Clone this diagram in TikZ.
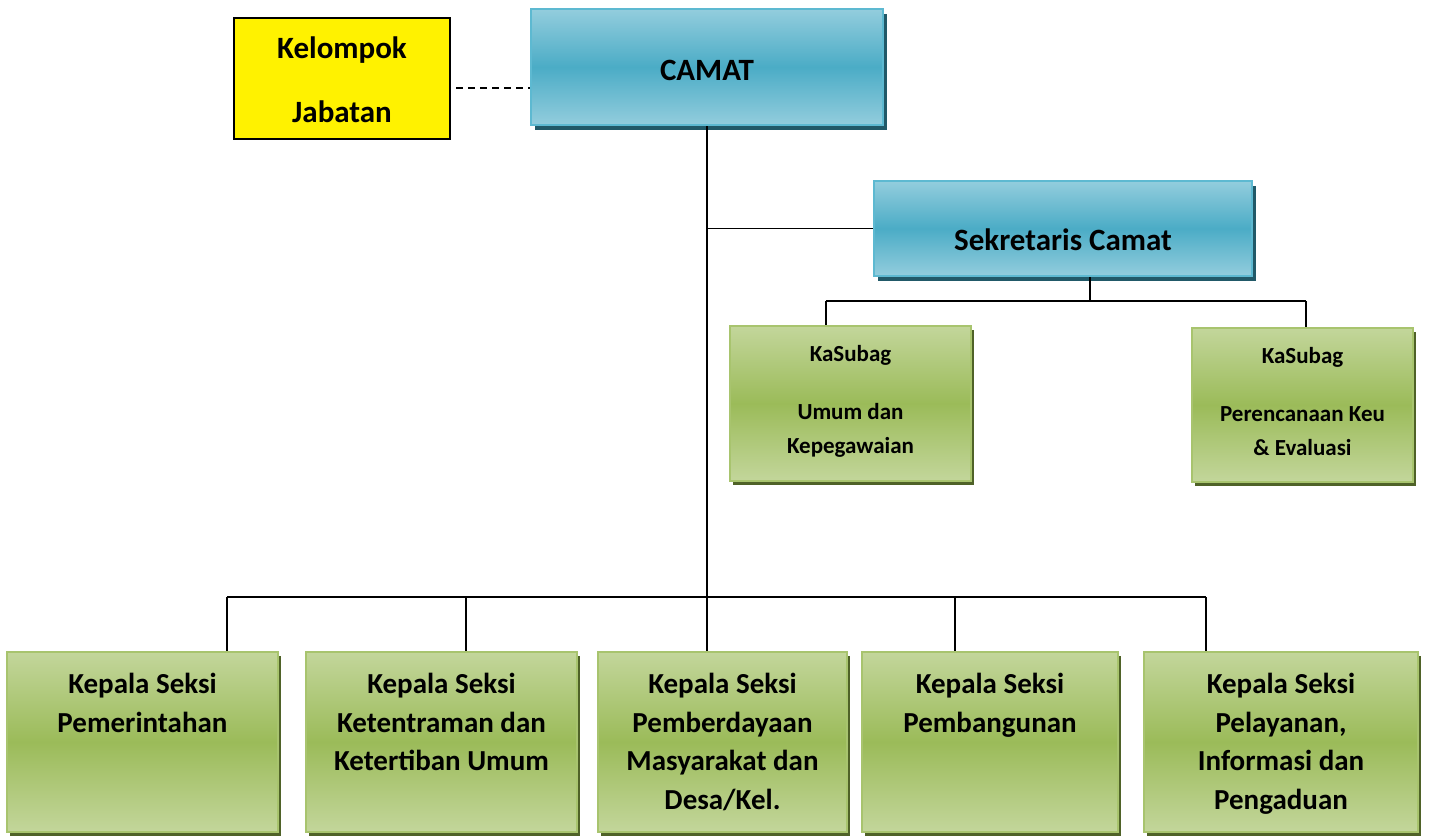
\documentclass[tikz,border=0pt]{standalone}
\usepackage{fontspec}
\setmainfont{Carlito}
\usetikzlibrary{shadows}
\definecolor{bluelight}{HTML}{93CDDD}
\definecolor{bluemid}{HTML}{4BACC6}
\definecolor{blueedge}{HTML}{5DB9D1}
\definecolor{blueshadow}{HTML}{215968}
\definecolor{greenlight}{HTML}{C3D69B}
\definecolor{greenmid}{HTML}{9BBB59}
\definecolor{greenedge}{HTML}{A8C46E}
\definecolor{greenshadow}{HTML}{4F6228}
\tikzset{
  bluebox/.style={draw=blueedge, line width=2.2pt, top color=bluelight, bottom color=bluelight, middle color=bluemid,
    drop shadow={shadow xshift=4pt, shadow yshift=-5pt, fill=blueshadow, opacity=1}, inner sep=0pt},
  greenbox/.style={draw=greenedge, line width=2.2pt, top color=greenlight, bottom color=greenlight, middle color=greenmid,
    drop shadow={shadow xshift=3pt, shadow yshift=-4pt, fill=greenshadow, opacity=1}, inner sep=0pt},
  yellowbox/.style={draw=black, line width=1.3pt, fill=yellow, inner sep=0pt},
  conn/.style={line width=1.6pt, black},
  bigtxt/.style={font=\bfseries\fontsize{29}{38.7}\selectfont, align=center, inner sep=0pt, anchor=north},
  smalltxt/.style={font=\bfseries\fontsize{23}{34}\selectfont, align=center, inner sep=0pt, anchor=north},
  headtxt/.style={font=\bfseries\fontsize{31}{64}\selectfont, align=center, inner sep=0pt},
}
\begin{document}
\begin{tikzpicture}[x=1pt,y=-1pt]
\useasboundingbox (0,0) rectangle (1431,835);
% boxes
\node[yellowbox, minimum width=216, minimum height=121] (kel) at (342,78.5) {};
\node[headtxt] (kelt) at (342,80) {Kelompok\\Jabatan};
\node[bluebox, minimum width=352, minimum height=116] (camat) at (707,67) {};
\node[headtxt] (camatt) at (707,70) {CAMAT};
\node[bluebox, minimum width=378, minimum height=95] (sek) at (1063,228.5) {};
\node[headtxt] (sekt) at (1063,240) {Sekretaris Camat};
\node[greenbox, minimum width=241, minimum height=155] (k1) at (850.5,403.5) {};
\node[smalltxt] (k1t) at (850.5,345) {KaSubag\\[24pt]Umum dan\\Kepegawaian};
\node[greenbox, minimum width=221, minimum height=154] (k2) at (1302.5,405) {};
\node[smalltxt] (k2t) at (1302.5,347) {KaSubag\\[24pt]Perencanaan Keu\\\& Evaluasi};
\node[greenbox, minimum width=271, minimum height=180] (b1) at (142.5,742) {};
\node[bigtxt] (b1t) at (142.5,673) {Kepala Seksi\\Pemerintahan};
\node[greenbox, minimum width=271, minimum height=180] (b2) at (441.5,742) {};
\node[bigtxt] (b2t) at (441.5,673) {Kepala Seksi\\Ketentraman dan\\Ketertiban Umum};
\node[greenbox, minimum width=249, minimum height=180] (b3) at (722.5,742) {};
\node[bigtxt] (b3t) at (722.5,673) {Kepala Seksi\\Pemberdayaan\\Masyarakat dan\\Desa/Kel.};
\node[greenbox, minimum width=256, minimum height=180] (b4) at (990,742) {};
\node[bigtxt] (b4t) at (990,673) {Kepala Seksi\\Pembangunan};
\node[greenbox, minimum width=274, minimum height=180] (b5) at (1281,742) {};
\node[bigtxt] (b5t) at (1281,673) {Kepala Seksi\\Pelayanan,\\Informasi dan\\Pengaduan};
% connectors
\coordinate (d1) at (456,88);
\draw[conn, line width=1.3pt, dash pattern=on 7pt off 5pt] (d1) -- (camat.west |- d1);
\coordinate (trunk) at (707,597);
\coordinate (busL) at (227,597);
\coordinate (busR) at (1206,597);
\coordinate (bus2) at (466,597);
\coordinate (bus4) at (955,597);
\draw[conn] (camat.south) -- (trunk |- b3.north);
\draw[conn] (busL) -- (busR);
\draw[conn] (busL) -- (busL |- b1.north);
\draw[conn] (bus2) -- (bus2 |- b2.north);
\draw[conn] (bus4) -- (bus4 |- b4.north);
\draw[conn] (busR) -- (busR |- b5.north);
\draw[conn] (trunk |- sek.west) -- (sek.west);
\coordinate (sbM) at (1090,301);
\coordinate (sbL) at (826,301);
\coordinate (sbR) at (1306,301);
\draw[conn] (sbM |- sek.south) -- (sbM);
\draw[conn] (sbL) -- (sbR);
\draw[conn] (sbL) -- (sbL |- k1.north);
\draw[conn] (sbR) -- (sbR |- k2.north);
\end{tikzpicture}
\end{document}
